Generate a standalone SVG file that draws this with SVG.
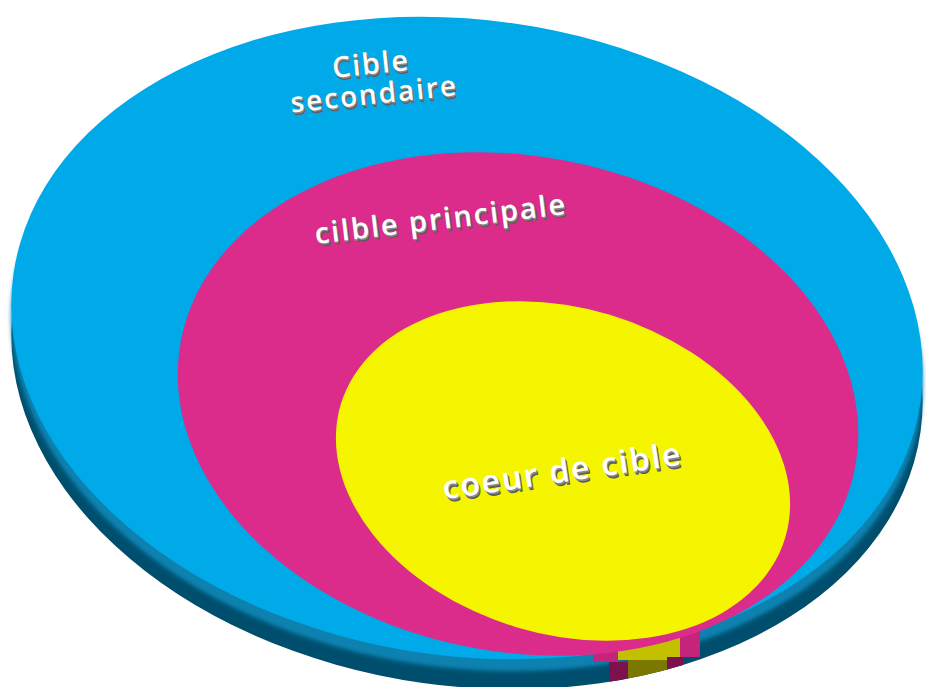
<svg xmlns="http://www.w3.org/2000/svg" width="926" height="687" viewBox="0 0 926 687">
<defs>
<style>
.lbl{font-family:"Open Sans","DejaVu Sans",sans-serif;font-weight:600;}
.ext1{fill:#5c5c5c;}
.ext2{fill:#8a8a8a;}
.face{fill:#ffffff;}
</style>
<clipPath id="discClip">
<ellipse cx="0" cy="0" rx="458" ry="318" transform="translate(467,368) rotate(8)"/>
</clipPath>
<filter id="soft" x="-5%" y="-5%" width="110%" height="110%">
<feGaussianBlur stdDeviation="2"/>
</filter>
<text id="t1" class="lbl" font-size="29" text-anchor="middle" x="0" y="0" textLength="76" lengthAdjust="spacing">Cible</text>
<text id="t2" class="lbl" font-size="28" text-anchor="middle" x="0" y="30" textLength="166" lengthAdjust="spacing">secondaire</text>
<text id="t3" class="lbl" font-size="29" text-anchor="middle" x="0" y="0" textLength="252" lengthAdjust="spacing">cilble principale</text>
<text id="t4" class="lbl" font-size="32" text-anchor="middle" x="0" y="0" textLength="240" lengthAdjust="spacing">coeur de cible</text>
</defs>
<rect width="926" height="687" fill="#ffffff"/>

<g id="outer-disc">
<ellipse cx="0" cy="0" rx="458" ry="318" fill="#004e6d" transform="translate(467,368) rotate(8)"/>
<ellipse cx="0" cy="0" rx="458" ry="318" fill="#0882b0" transform="translate(467,350) rotate(8)" filter="url(#soft)"/>
<ellipse cx="0" cy="0" rx="458" ry="318" fill="#00a9e7" transform="translate(467,338) rotate(8)"/>
</g>

<g id="stem" clip-path="url(#discClip)">
<polygon points="593,638 618,638 618,662 593,662" fill="#c4257a"/>
<polygon points="609,662 628,662 628,690 609,690" fill="#7d114b"/>
<polygon points="618,628 681,628 681,660 618,660" fill="#c3c000"/>
<polygon points="628,660 670,660 670,690 628,690" fill="#7b7800"/>
<polygon points="680,626 700,626 700,657 680,657" fill="#c4257a"/>
<polygon points="667,657 683,657 683,690 667,690" fill="#7d114b"/>
</g>

<g id="middle-disc">
<ellipse cx="0" cy="0" rx="343" ry="248" fill="#db2b8b" transform="translate(518,404) rotate(10.5)"/>
</g>

<g id="inner-disc">
<ellipse cx="0" cy="0" rx="232" ry="163" fill="#f5f500" transform="translate(563,471) rotate(16.7)"/>
</g>

<g id="label-secondaire" transform="translate(371,74) rotate(-6)">
<use href="#t1" class="ext1" x="1.5" y="3"/>
<use href="#t1" class="ext2" x="0.8" y="1.5"/>
<use href="#t1" class="face"/>
<use href="#t2" class="ext1" x="1.5" y="3"/>
<use href="#t2" class="ext2" x="0.8" y="1.5"/>
<use href="#t2" class="face"/>
</g>

<g id="label-principale" transform="translate(441,229) rotate(-6.8)">
<use href="#t3" class="ext1" x="1.5" y="3"/>
<use href="#t3" class="ext2" x="0.8" y="1.5"/>
<use href="#t3" class="face"/>
</g>

<g id="label-coeur" transform="translate(563,482) rotate(-8.3)">
<use href="#t4" class="ext1" x="1.5" y="3.5"/>
<use href="#t4" class="ext2" x="0.8" y="1.8"/>
<use href="#t4" class="face"/>
</g>
</svg>
